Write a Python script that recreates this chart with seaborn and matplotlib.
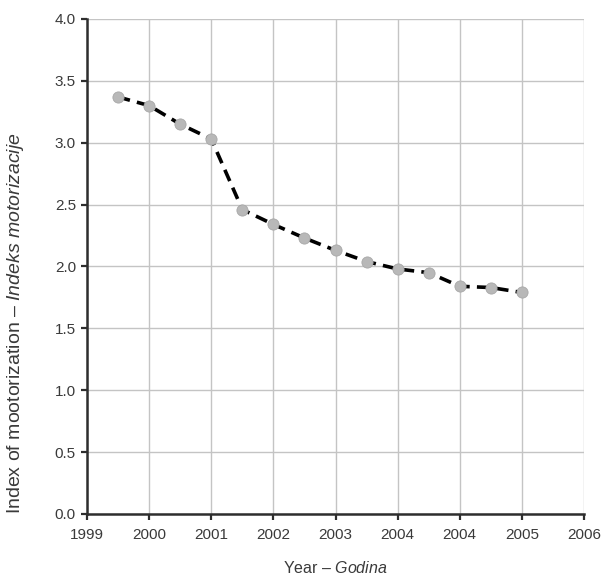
import pandas as pd
import matplotlib
matplotlib.use('Agg')
import matplotlib.pyplot as plt
import seaborn as sns

# half-year steps along the axis (axis units: 0 = first tick, 8 = last tick)
positions = [0.5, 1.0, 1.5, 2.0, 2.5, 3.0, 3.5, 4.0, 4.5, 5.0, 5.5, 6.0, 6.5, 7.0]
index_values = [3.37, 3.30, 3.15, 3.03, 2.46, 2.34, 2.23, 2.13, 2.04, 1.98, 1.95, 1.84, 1.83, 1.79]
tick_labels = ['1999', '2000', '2001', '2002', '2003', '2004', '2004', '2005', '2006']
y_ticks = [0.0, 0.5, 1.0, 1.5, 2.0, 2.5, 3.0, 3.5, 4.0]

df = pd.DataFrame({'pos': positions, 'index': index_values})

sns.set_style('white')
plt.rcParams['font.family'] = ['Liberation Sans', 'DejaVu Sans']
plt.rcParams['mathtext.fontset'] = 'custom'
plt.rcParams['mathtext.rm'] = 'Liberation Sans'
plt.rcParams['mathtext.it'] = 'Liberation Sans:italic'

text_color = '#3a3a3a'
fig = plt.figure(figsize=(6.01, 5.79), dpi=100)
ax = fig.add_axes([0.1448, 0.1123, 0.8269, 0.8549])

sns.lineplot(data=df, x='pos', y='index', ax=ax, color='black', linewidth=2.6,
             linestyle=(0, (3.4, 2.0)), zorder=3)
sns.scatterplot(data=df, x='pos', y='index', ax=ax, color='#b8b8b8', s=65,
                edgecolor='#a8a8a8', linewidth=0.6, zorder=4)

ax.set_xlim(0, 8)
ax.set_ylim(0, 4)
ax.set_xticks(range(len(tick_labels)))
ax.set_xticklabels(tick_labels)
ax.set_yticks(y_ticks)
ax.set_yticklabels([f'{v:.1f}' for v in y_ticks])

ax.grid(True, color='#c4c4c4', linewidth=1.0)
ax.set_axisbelow(True)
for side in ['top', 'right']:
    ax.spines[side].set_visible(False)
for side in ['left', 'bottom']:
    ax.spines[side].set_color('#2e2e2e')
    ax.spines[side].set_linewidth(1.8)

ax.tick_params(axis='both', which='major', direction='out', length=4, width=1.6,
               color='#2e2e2e', labelsize=11, labelcolor=text_color)
ax.tick_params(axis='x', bottom=True, pad=6)
ax.tick_params(axis='y', left=True, pad=4)

ax.set_xlabel(r'Year – $\mathit{Godina}$', fontsize=11.5, color=text_color)
ax.xaxis.set_label_coords(0.5, -0.092)
ax.set_ylabel(r'Index of mootorization – $\mathit{Indeks}$ $\mathit{motorizacije}$',
              fontsize=14, color=text_color)
ax.yaxis.set_label_coords(-0.122, 0.386)

fig.savefig('out.png', dpi=100)
